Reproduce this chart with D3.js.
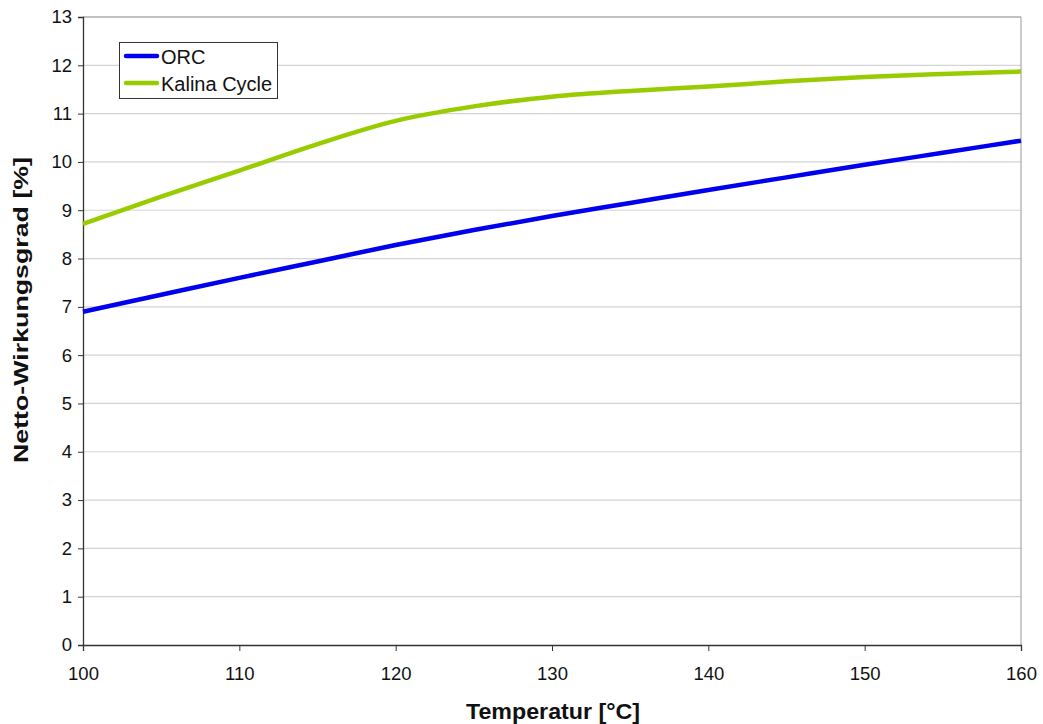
<!DOCTYPE html>
<html><head><meta charset="utf-8">
<script src="https://cdn.jsdelivr.net/npm/d3@7"></script>
<style>body{margin:0;background:#fff;font-family:"Liberation Sans",Arial,sans-serif}</style>
</head><body><svg id="c" width="1043" height="724"></svg>
<script>
const temps = [100,105,110,115,120,125,130,135,140,145,150,155,160];
const orc = [6.90,7.25,7.60,7.94,8.28,8.59,8.88,9.15,9.42,9.68,9.94,10.19,10.44];
const kalina = [8.72,9.28,9.82,10.37,10.85,11.15,11.35,11.47,11.56,11.67,11.76,11.82,11.87];
const yTicks = [0,1,2,3,4,5,6,7,8,9,10,11,12,13];
const xTicks = [100,110,120,130,140,150,160];
const seriesNames = ["ORC","Kalina Cycle"];
const colors = ["#0000ee","#99cc00"];

const svg = d3.select("#c");
const L=83,R=1021,T=17,B=645;
const x = d3.scaleLinear().domain([100,160]).range([L,R]);
const y = d3.scaleLinear().domain([0,13]).range([B,T]);

svg.append("g").selectAll("line").data(yTicks.filter(d=>d>0)).join("line")
  .attr("x1",L).attr("x2",R).attr("y1",d=>y(d)).attr("y2",d=>y(d))
  .attr("stroke","#d4d4d4").attr("stroke-width",1.2);
svg.append("line").attr("x1",L).attr("x2",R).attr("y1",T).attr("y2",T).attr("stroke","#999");
svg.append("line").attr("x1",R).attr("x2",R).attr("y1",T).attr("y2",B).attr("stroke","#999");

const ya = svg.append("g").attr("transform",`translate(${L},0)`)
  .call(d3.axisLeft(y).tickValues(yTicks).tickSize(5).tickPadding(6).tickFormat(d3.format("d")));
const xa = svg.append("g").attr("transform",`translate(0,${B})`)
  .call(d3.axisBottom(x).tickValues(xTicks).tickSize(6).tickPadding(16).tickFormat(d3.format("d")));
[ya,xa].forEach(a=>{
  a.select(".domain").attr("stroke","#333").attr("stroke-width",1.3);
  a.selectAll(".tick line").attr("stroke","#333");
  a.selectAll("text").attr("font-size",18.5).attr("fill","#111").attr("font-family","Liberation Sans, Arial, sans-serif");
});

const line = d3.line().x((d,i)=>x(temps[i])).y(d=>y(d)).curve(d3.curveMonotoneX);
[orc,kalina].forEach((s,k)=>{
  svg.append("path").datum(s).attr("d",line).attr("fill","none")
    .attr("stroke",colors[k]).attr("stroke-width",4.5);
});

svg.append("text").attr("x",553).attr("y",719).attr("text-anchor","middle")
  .attr("font-size",22).attr("font-weight","bold").attr("fill","#111")
  .attr("textLength",174).attr("lengthAdjust","spacingAndGlyphs").text("Temperatur [°C]");
svg.append("text").attr("transform",`translate(28,310) rotate(-90)`).attr("text-anchor","middle")
  .attr("font-size",21).attr("font-weight","bold").attr("fill","#111")
  .attr("textLength",306).attr("lengthAdjust","spacingAndGlyphs").text("Netto-Wirkungsgrad [%]");

const lg = svg.append("g");
lg.append("rect").attr("x",119.5).attr("y",42.5).attr("width",158).attr("height",56)
  .attr("fill","#fff").attr("stroke","#333").attr("stroke-width",1);
seriesNames.forEach((n,i)=>{
  const yy = 56+i*27;
  lg.append("line").attr("x1",126).attr("x2",157).attr("y1",yy).attr("y2",yy)
    .attr("stroke",colors[i]).attr("stroke-width",4.5).attr("stroke-linecap","round");
  lg.append("text").attr("x",161).attr("y",yy+8).attr("font-size",20).attr("fill","#111").text(n);
});
</script></body></html>
